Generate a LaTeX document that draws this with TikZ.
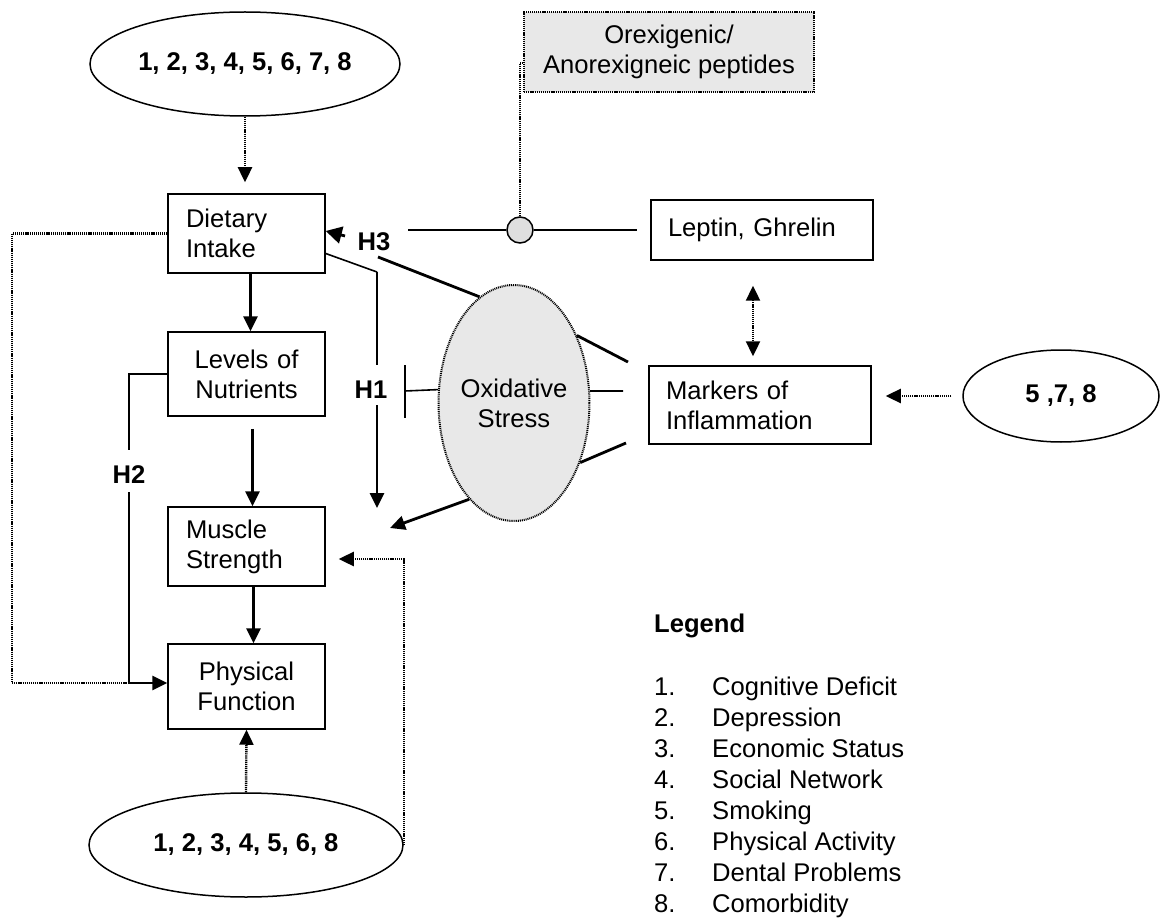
\documentclass[tikz,border=0pt]{standalone}
\usepackage{fontspec}
\setmainfont{Liberation Sans}
\usetikzlibrary{arrows.meta,shapes.geometric}
\begin{document}
\begin{tikzpicture}[x=1pt,y=-1pt,
  every node/.style={font=\fontsize{25.6}{30}\selectfont},
  lbox/.style={draw,line width=1.5pt,inner xsep=18pt,inner ysep=0pt,text width=121pt,minimum height=79pt,align=left},
  cbox/.style={lbox,align=center},
  rbox/.style={draw,line width=1.5pt,inner xsep=17pt,inner ysep=0pt,text width=188pt,align=left},
  ell/.style={draw,ellipse,line width=1.5pt,inner sep=0pt,font=\fontsize{25.6}{30}\selectfont\bfseries},
  arr/.style={line width=2.8pt,-{Triangle[length=15pt,width=14pt]}},
  thk/.style={line width=2.8pt},
  thn/.style={line width=1.6pt},
  dot/.style={line width=2.4pt,dash pattern=on 1.2pt off 0.9pt},
  dotarr/.style={dot,-{Triangle[length=15pt,width=14pt]}},
  dotdbl/.style={dot,{Triangle[length=15pt,width=14pt]}-{Triangle[length=15pt,width=14pt]}},
  lab/.style={font=\fontsize{25.6}{30}\selectfont\bfseries,inner sep=0pt}
]
\useasboundingbox (0,0) rectangle (1160,920);

% helper coordinates
\coordinate (k63) at (0,63);
\coordinate (k231) at (0,231);
\coordinate (k559) at (0,559);
\coordinate (k683) at (0,683);
\coordinate (k753) at (753,0);

% nodes
\node[ell,minimum width=310pt,minimum height=104pt] (te) at (245,64) {1, 2, 3, 4, 5, 6, 7, 8};
\node[lbox] (di) at (246.5,233.5) {Dietary\\Intake};
\node[cbox,minimum height=84pt] (ln) at (246.5,374) {Levels of\\Nutrients};
\node[lbox] (ms) at (246.5,546.5) {Muscle\\Strength};
\node[cbox,minimum height=85pt] (pf) at (246.5,686.5) {Physical\\Function};
\node[ell,minimum width=314pt,minimum height=104pt] (be) at (246,845) {1, 2, 3, 4, 5, 6, 8};
\node[draw,dot,fill=gray!18,minimum width=290pt,minimum height=80pt,align=center,inner sep=0pt] (pp) at (669,52) {Orexigenic/\\Anorexigneic peptides};
\node[rbox,minimum height=60pt] (lg) at (762,230) {Leptin, Ghrelin};
\node[rbox,minimum height=78pt] (mk) at (760,405) {Markers of\\Inflammation};
\node[ell,minimum width=196pt,minimum height=92pt] (e5) at (1061,396) {5 ,7, 8};
\node[ellipse,draw,line width=2pt,dash pattern=on 1pt off 0.9pt,fill=gray!18,minimum width=144pt,minimum height=236pt,inner sep=0pt,align=center] (os) at (514,403) {Oxidative\\Stress};
\node[circle,draw,line width=1.5pt,fill=gray!25,minimum size=26pt,inner sep=0pt] (cc) at (520,230) {};

% labels
\node[lab] (h1) at (371,390) {H1};
\node[lab] (h2) at (129,475) {H2};
\node[lab] (h3) at (374,242) {H3};

% free ends
\coordinate (h1a) at (377,272);
\coordinate (h1b) at (377,365);
\coordinate (h1c) at (377,405);
\coordinate (h1t) at (377,508);
\coordinate (ost) at (390,528);
\coordinate (h3d) at (378,257);
\coordinate (h3s) at (408,230);
\coordinate (h3a) at (345,236);
\coordinate (m1) at (628,362);
\coordinate (m2) at (623,391);
\coordinate (m3) at (626,443);
\coordinate (tb) at (405,391);
\coordinate (tb1) at (405,365);
\coordinate (tb2) at (405,418);
\coordinate (lx) at (12,683);
\coordinate (h2x) at (129,683);
\coordinate (h2a) at (129,450);
\coordinate (h2b) at (129,492);

% main chain
\draw[dotarr,shorten >=11pt] (te.south) -- (te.south |- di.north);
\draw[arr] ([xshift=4pt]di.south) -- ([xshift=4pt]ln.north);
\draw[arr,shorten <=12pt] ([xshift=6pt]ln.south) -- ([xshift=6pt]ms.north);
\draw[arr] ([xshift=7pt]ms.south) -- ([xshift=7pt]pf.north);
\draw[dotarr] (be.north) -- (pf.south);
\draw[dotarr,shorten >=13pt] (be.east) |- (ms.east |- k559);

% left loops
\draw[dot] (di.west) -| (lx) -- (h2x);
\draw[thn] (ln.west) -| (h2a);
\draw[thn] (h2b) -- (h2x);
\draw[arr] (h2x) -- (pf.west |- k683);

% H1
\draw[thn] ([yshift=-20pt]di.east) -- (h1a);
\draw[thk] (h1a) -- (h1b);
\draw[arr] (h1c) -- (h1t);
\draw[thn] (os.170.5) -- (tb);
\draw[thn] (tb1) -- (tb2);

% H3
\draw[thk] (os.108) -- (h3d);
\draw[thk] (h3s) -- (cc.west);
\draw[thk,shorten >=13pt] (cc.east) -- (lg.west);
\draw[line width=2.8pt,-{Triangle[length=16pt,width=17pt]}] (h3a) -- (di.east |- k231);
\draw[dot] (cc.north) |- (pp.west |- k63);

% oxidative stress links
\draw[arr] (os.245) -- (ost);
\draw[thk] (os.47) -- (m1);
\draw[thn] (os.9.5) -- (m2);
\draw[thk] (os.-42) -- (m3);

% right side
\draw[dotdbl,shorten <=25pt,shorten >=9pt] (lg.south -| k753) -- (mk.north -| k753);
\draw[dotarr,shorten <=11pt,shorten >=14pt] (e5.west) -- (mk.east |- e5.west);

% legend
\node[lab,anchor=base west] (leg) at (654,632) {Legend};
\foreach \i/\t [count=\k from 0] in {1/Cognitive Deficit,2/Depression,3/Economic Status,4/Social Network,5/Smoking,6/Physical Activity,7/Dental Problems,8/Comorbidity}{
  \pgfmathsetmacro{\yy}{695+31.1*\k}
  \node[anchor=base west,inner sep=0pt] (n\i) at (654,\yy) {\i.};
  \node[anchor=base west,inner sep=0pt] (t\i) at (712,\yy) {\t};
}
\end{tikzpicture}
\end{document}
